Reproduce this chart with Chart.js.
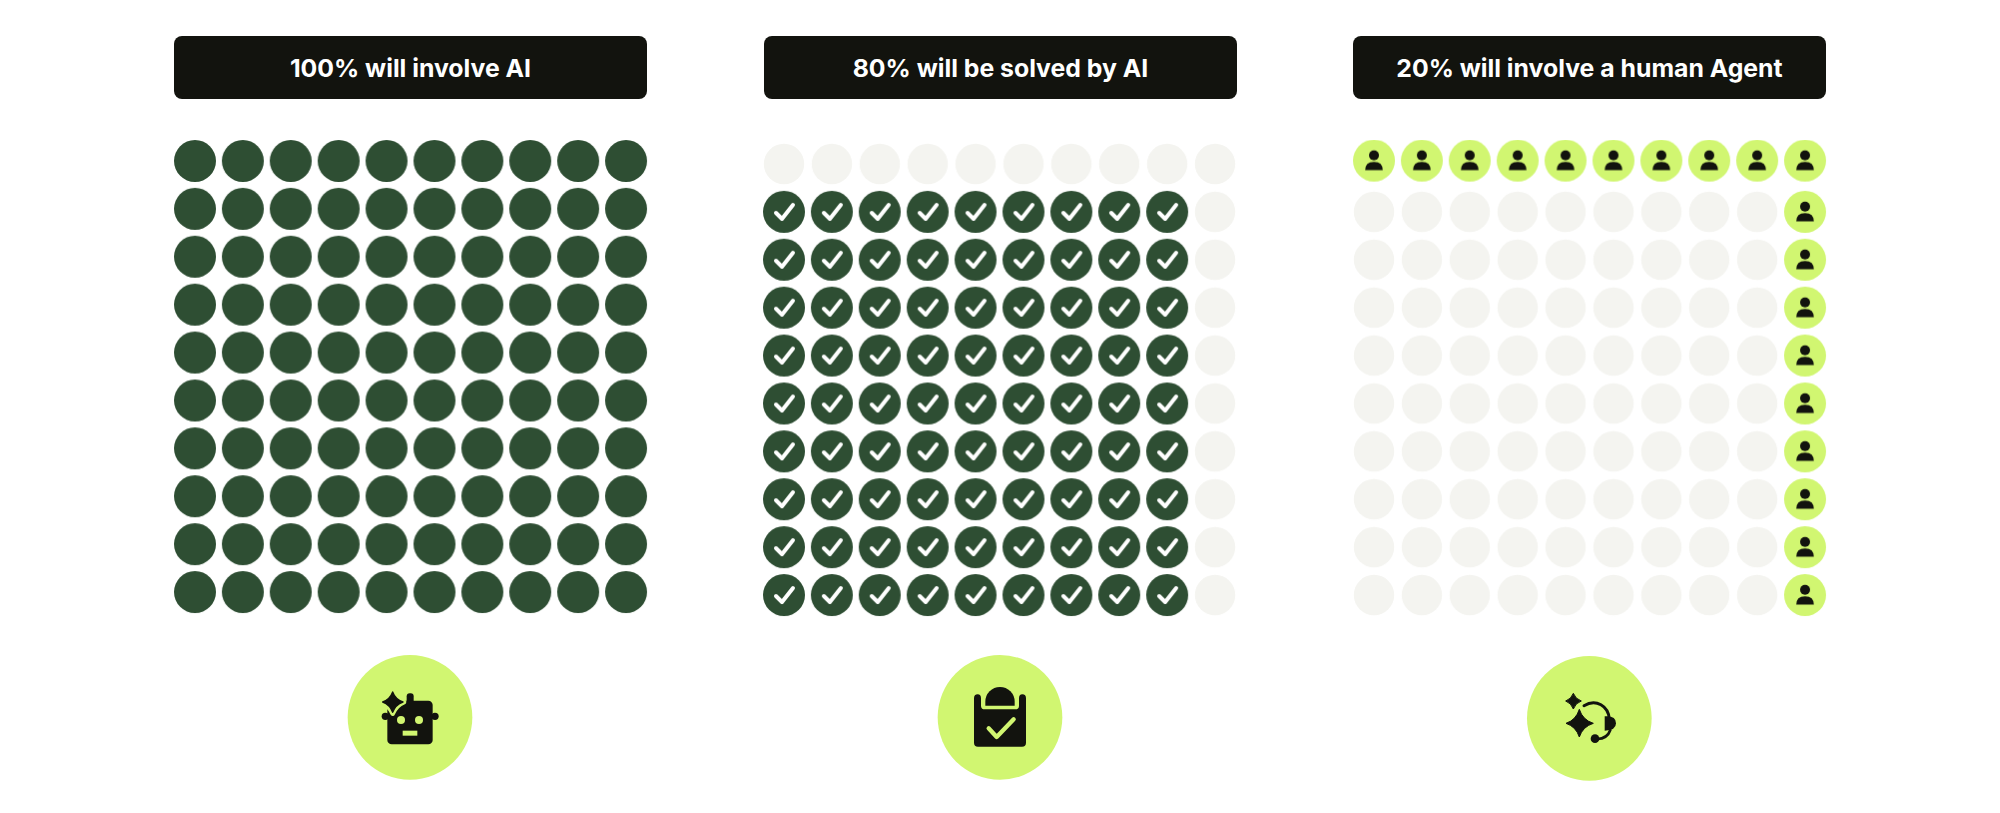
<!DOCTYPE html>
<html>
<head>
<meta charset="utf-8">
<title>AI waffle charts</title>
<script src="https://cdn.jsdelivr.net/npm/chart.js@4"></script>
<style>
  html, body { margin: 0; padding: 0; background: #fff; width: 2000px; height: 813px; overflow: hidden; }
  .head { position: absolute; top: 36px; width: 473px; height: 63px; border-radius: 8px;
          background: #12130e; color: #fff; text-align: center; font: 700 24.8px/64px Inter, sans-serif; }
  canvas { position: absolute; top: 0; }
  svg { position: absolute; top: 640px; width: 160px; height: 160px; }
</style>
</head>
<body>
<div class="head" id="head0" style="left:174px"></div>
<div class="head" id="head1" style="left:764px"></div>
<div class="head" id="head2" style="left:1353px"></div>

<div style="position:absolute;left:171px;top:137px"><canvas id="chart0" width="479" height="479"></canvas></div>
<div style="position:absolute;left:760px;top:140px"><canvas id="chart1" width="479" height="479"></canvas></div>
<div style="position:absolute;left:1350px;top:140px"><canvas id="chart2" width="479" height="479"></canvas></div>

<svg viewBox="0 0 480 480" style="left:330px">
  <circle cx="240" cy="232" r="187" fill="#d1f671"/>
  <rect x="230" y="160" width="21" height="40" rx="9" fill="#12130e"/>
  <circle cx="166" cy="229" r="11" fill="#12130e"/>
  <circle cx="315" cy="229" r="11" fill="#12130e"/>
  <rect x="172" y="182" width="136" height="131" rx="13" fill="#12130e"/>
  <path d="M188 153 Q198 176 222 186 Q198 196 188 221 Q178 196 154 186 Q178 176 188 153Z" fill="#d1f671" stroke="#d1f671" stroke-width="14" stroke-linejoin="round"/>
  <path d="M188 156 Q196 178 219 186 Q196 194 188 217 Q180 194 158 186 Q180 178 188 156Z" fill="#12130e" stroke="#12130e" stroke-width="4" stroke-linejoin="round"/>
  <circle cx="213" cy="240" r="12" fill="#d1f671"/>
  <circle cx="267" cy="240" r="12" fill="#d1f671"/>
  <rect x="218" y="272" width="44" height="15" fill="#d1f671"/>
</svg>

<svg viewBox="0 0 480 480" style="left:920px">
  <circle cx="240" cy="232" r="187" fill="#d1f671"/>
  <path d="M173 163 Q183 163 183 175 L183 197 Q183 208 194 208 L286 208 Q297 208 297 197 L297 175 Q297 163 307 163 Q318 163 318 175 L318 308 Q318 320 306 320 L174 320 Q162 320 162 308 L162 175 Q162 163 173 163Z" fill="#12130e"/>
  <path d="M196 197 L196 185 A44 44 0 0 1 284 185 L284 197Z" fill="#12130e"/>
  <path d="M206 265 L230 291 L281 238" fill="none" stroke="#d1f671" stroke-width="13" stroke-linecap="round" stroke-linejoin="round"/>
</svg>

<svg viewBox="0 0 480 480" style="left:1510px">
  <circle cx="238" cy="235" r="187" fill="#d1f671"/>
  <path d="M190 160 Q196 177 214 183 Q196 189 190 207 Q184 189 167 183 Q184 177 190 160Z" fill="#12130e" stroke="#12130e" stroke-width="3" stroke-linejoin="round"/>
  <path d="M208 208 Q218 240 250 250 Q218 260 208 291 Q198 260 168 250 Q198 240 208 208Z" fill="#12130e" stroke="#12130e" stroke-width="3" stroke-linejoin="round"/>
  <path d="M222 197 C258 175 296 198 298 238" fill="none" stroke="#12130e" stroke-width="9" stroke-linecap="round"/>
  <path d="M284 229 Q318 226 318 250 Q318 272 284 272Z" fill="#12130e"/>
  <path d="M301 270 Q292 296 262 297" fill="none" stroke="#12130e" stroke-width="8" stroke-linecap="round"/>
  <circle cx="255" cy="296" r="13" fill="#12130e"/>
</svg>

<script>
const titles = ['100% will involve AI', '80% will be solved by AI', '20% will involve a human Agent'];

// one letter per cell, top row first. d = dark, c = check, p = person, e = empty
const gridInvolveAi = [
  'dddddddddd', 'dddddddddd', 'dddddddddd', 'dddddddddd', 'dddddddddd',
  'dddddddddd', 'dddddddddd', 'dddddddddd', 'dddddddddd', 'dddddddddd'
];
const gridSolvedByAi = [
  'eeeeeeeeee', 'ccccccccce', 'ccccccccce', 'ccccccccce', 'ccccccccce',
  'ccccccccce', 'ccccccccce', 'ccccccccce', 'ccccccccce', 'ccccccccce'
];
const gridHumanAgent = [
  'pppppppppp', 'eeeeeeeeep', 'eeeeeeeeep', 'eeeeeeeeep', 'eeeeeeeeep',
  'eeeeeeeeep', 'eeeeeeeeep', 'eeeeeeeeep', 'eeeeeeeeep', 'eeeeeeeeep'
];
const grids = [gridInvolveAi, gridSolvedByAi, gridHumanAgent];

const DARK = '#2e4e33', LIME = '#d1f671', PALE = '#f4f4f0', INK = '#12130e';

function dot(color, r, drawIcon) {
  var c = document.createElement('canvas');
  c.width = 46; c.height = 46;
  var g = c.getContext('2d');
  g.translate(23, 23);
  g.fillStyle = color;
  g.beginPath(); g.arc(0, 0, r, 0, Math.PI * 2); g.fill();
  if (drawIcon) drawIcon(g);
  return c;
}

const styles = {
  d: dot(DARK, 21),
  e: dot(PALE, 20.2),
  c: dot(DARK, 21, function (g) {
    g.strokeStyle = '#fff'; g.lineWidth = 4; g.lineCap = 'round'; g.lineJoin = 'round';
    g.beginPath(); g.moveTo(-8, 1); g.lineTo(-2, 7); g.lineTo(9, -7); g.stroke();
  }),
  p: dot(LIME, 21, function (g) {
    g.fillStyle = INK;
    g.beginPath(); g.arc(0, -5.3, 5, 0, Math.PI * 2); g.fill();
    g.beginPath(); g.moveTo(-8.8, 9.6); g.quadraticCurveTo(-8.8, 1.2, 0, 1.2); g.quadraticCurveTo(8.8, 1.2, 8.8, 9.6); g.closePath(); g.fill();
  })
};

grids.forEach(function (grid, i) {
  document.getElementById('head' + i).textContent = titles[i];

  var datasets = [];
  Object.keys(styles).forEach(function (code) {
    var points = [], topPoints = [];
    grid.forEach(function (row, r) {
      row.split('').forEach(function (cell, col) {
        if (cell !== code) return;
        // the top row of the third panel sits a little higher than the rest
        if (i === 2 && r === 0) topPoints.push({ x: col, y: r });
        else points.push({ x: col, y: r });
      });
    });
    if (points.length) datasets.push({ data: points, pointStyle: styles[code], pointRadius: 21, clip: false });
    if (topPoints.length) datasets.push({ data: topPoints, yAxisID: 'yTop', pointStyle: styles[code], pointRadius: 21, clip: false });
  });

  new Chart(document.getElementById('chart' + i), {
    type: 'scatter',
    data: { datasets: datasets },
    options: {
      responsive: false,
      animation: false,
      events: [],
      layout: { padding: 0, autoPadding: false },
      plugins: { legend: { display: false }, tooltip: { enabled: false } },
      scales: {
        x: { display: false, min: -0.5, max: 9.5 },
        y: { display: false, min: -0.5, max: 9.5, reverse: true },
        yTop: { display: false, min: -0.43, max: 9.57, reverse: true }
      }
    }
  });
});
</script>
</body>
</html>
